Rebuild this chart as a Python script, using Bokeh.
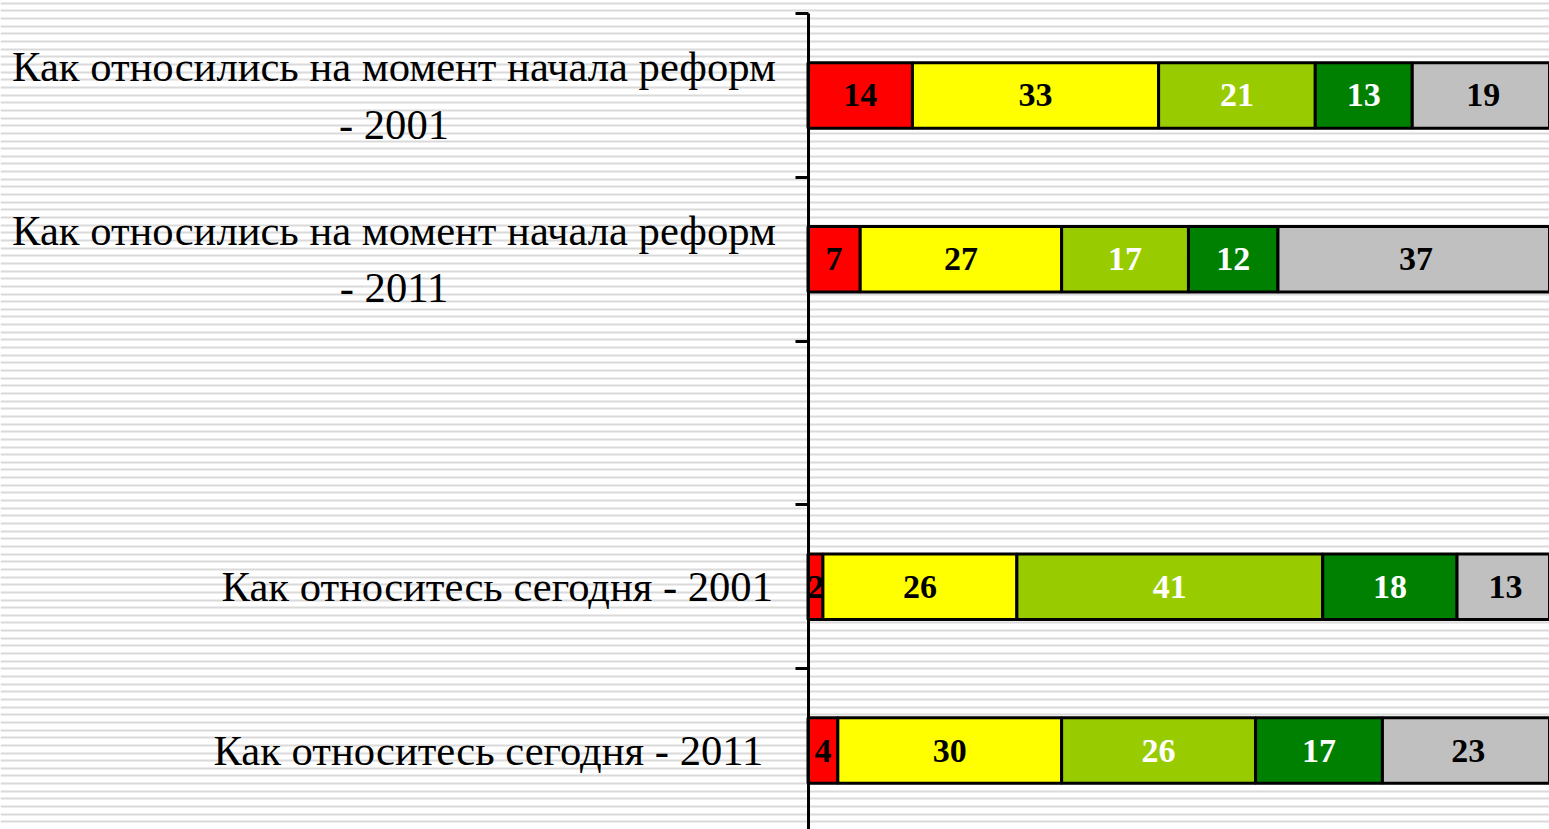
from bokeh.plotting import figure
from bokeh.models import (Range1d, LinearAxis, FixedTicker, SingleIntervalTicker,
                          Grid, ColumnDataSource, CustomLabelingPolicy)
from bokeh.core.properties import value, field
from bokeh.embed import file_html
from bokeh.resources import INLINE

# ---- data ----
categories = [
    "Как относились на момент начала реформ\n- 2001",
    "Как относились на момент начала реформ\n- 2011",
    "",
    "Как относитесь сегодня - 2001",
    "Как относитесь сегодня - 2011",
]
series_red = [14, 7, 0, 2, 4]
series_yellow = [33, 27, 0, 26, 30]
series_lightgreen = [21, 17, 0, 41, 26]
series_green = [13, 12, 0, 18, 17]
series_gray = [19, 37, 0, 13, 23]

series = [series_red, series_yellow, series_lightgreen, series_green, series_gray]
fill_colors = ["#FF0000", "#FFFF00", "#99CC00", "#008000", "#C0C0C0"]
text_colors = ["black", "black", "white", "white", "black"]

# ---- geometry ----
W, H = 1549, 829
px_per_unit = 7.46
axis_page_x = 807.5
x0 = -axis_page_x / px_per_unit
x1 = x0 + W / px_per_unit
slot = 163.8
top_page = 13
y_top = -0.5 - top_page / slot
y_bot = -0.5 + (H - top_page) / slot

p = figure(width=W, height=H, x_range=Range1d(x0, x1), y_range=Range1d(y_bot, y_top),
           x_axis_type=None, y_axis_type=None, toolbar_location=None,
           output_backend="svg", min_border=0, outline_line_color=None)
p.background_fill_color = "white"
p.border_fill_color = "white"

# striped background
p.extra_y_ranges = {"stripes": Range1d(0, H)}
p.add_layout(Grid(dimension=1, ticker=SingleIntervalTicker(interval=7.65),
                  y_range_name="stripes", grid_line_color="#dadada", grid_line_width=2))

# bars
ys, lefts, rights, mids, fills, labels, tcols = [], [], [], [], [], [], []
for i in range(len(categories)):
    cum = 0
    for s, fc, tc in zip(series, fill_colors, text_colors):
        v = s[i]
        if v > 0:
            ys.append(i)
            lefts.append(cum)
            rights.append(cum + v)
            mids.append(cum + v / 2)
            fills.append(fc)
            labels.append(str(v))
            tcols.append(tc)
        cum += v

src = ColumnDataSource(dict(y=ys, left=lefts, right=rights, mid=mids, fill=fills,
                            label=labels, tcol=tcols))
p.hbar(y="y", left="left", right="right", height=0.4, fill_color="fill",
       line_color="black", line_width=3, source=src)
p.text(x="mid", y="y", text="label", text_color="tcol", text_font=value("Liberation Serif"),
       text_font_style="bold", text_font_size="34px", text_align="center",
       text_baseline="middle", source=src)

# category labels
label_x = [-55.5, -55.5, 0, -4.7, -6.0]
label_align = ["center", "center", "right", "right", "right"]
cat_src = ColumnDataSource(dict(x=label_x, y=list(range(len(categories))), t=categories,
                                a=label_align))
p.text(x="x", y="y", text="t", text_align=field("a"), text_baseline="middle",
       text_font=value("Liberation Serif"), text_font_size="42.6px", text_color="black",
       text_line_height=1.22, source=cat_src)

# axis (ticks at category boundaries, no tick labels)
yaxis = LinearAxis(fixed_location=0, ticker=FixedTicker(ticks=[-0.5, 0.5, 1.5, 2.5, 3.5, 4.5]),
                   bounds=(-0.5, 5), axis_line_width=3, axis_line_color="black",
                   major_tick_line_width=3, major_tick_out=13, major_tick_in=0,
                   minor_tick_out=0, minor_tick_in=0,
                   major_label_policy=CustomLabelingPolicy(
                       code="for (const i of [...indices]) indices.unset(i); return indices"))
p.add_layout(yaxis, "left")

open("out.html", "w").write(file_html(p, INLINE))
